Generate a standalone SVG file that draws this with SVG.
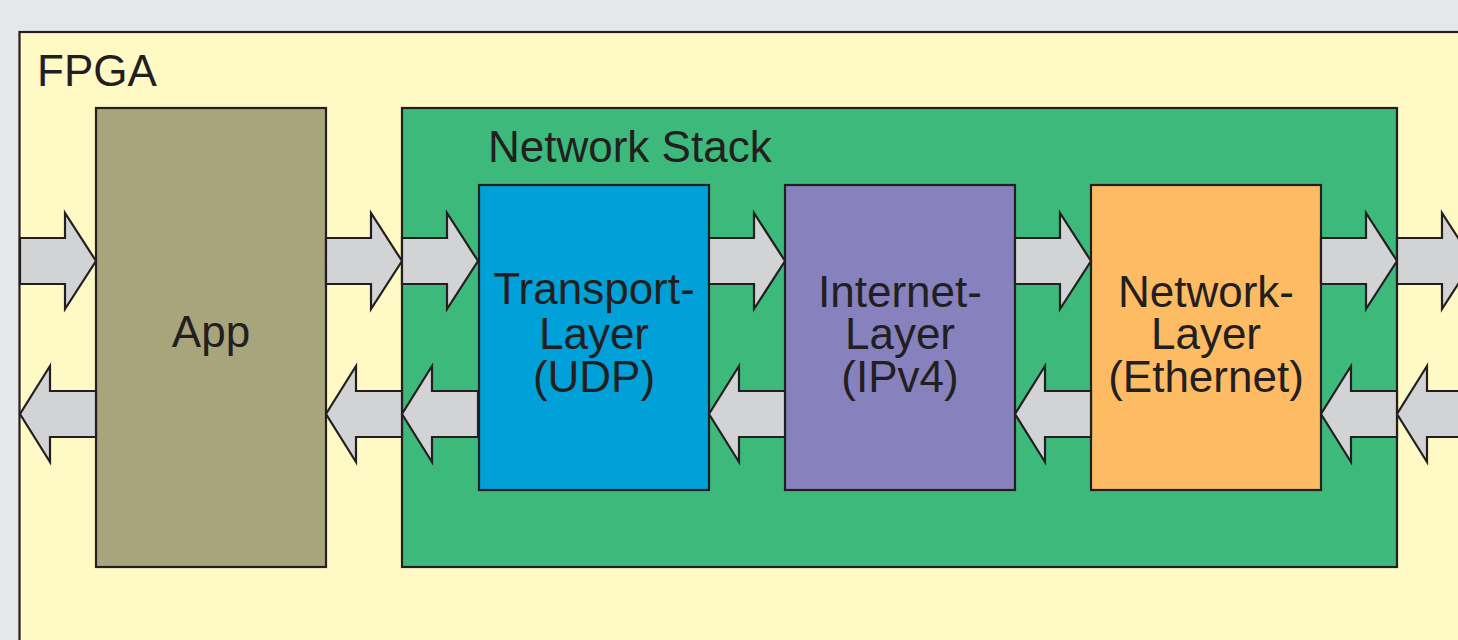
<svg xmlns="http://www.w3.org/2000/svg" width="1458" height="640" viewBox="0 0 1458 640">
<defs>
<style>
.box{stroke:#231f20;stroke-width:2.2}
.t{font-family:"Liberation Sans",Arial,sans-serif;font-size:44px;fill:#231f20}
.c{text-anchor:middle}
.ar{fill:#d1d3d4;stroke:#231f20;stroke-width:2.2;stroke-linejoin:miter}
</style>
<path id="ra" d="M0,-23 H45 V-48 L76,0 L45,48 V23 H0 Z"/>
<path id="la" d="M76,-23 H30 V-48 L0,0 L30,48 V23 H76 Z"/>
</defs>
<rect x="0" y="0" width="1458" height="640" fill="#e6e7e9"/>
<g id="fpga">
<rect class="box" x="19.5" y="32" width="1460" height="640" fill="#fff9c5"/>
<text class="t" x="37" y="86">FPGA</text>
</g>
<g id="app">
<rect class="box" x="96" y="108" width="230" height="459" fill="#a8a47c"/>
<text class="t c" x="211" y="347">App</text>
</g>
<g id="netstack">
<rect class="box" x="402" y="108" width="995" height="459" fill="#3cb97b"/>
<text class="t" x="488" y="162">Network Stack</text>
</g>
<g id="transport">
<rect class="box" x="479" y="185" width="230" height="305" fill="#00a0d8"/>
<text class="t c" x="594" y="304">Transport-</text>
<text class="t c" x="594" y="349">Layer</text>
<text class="t c" x="594" y="392">(UDP)</text>
</g>
<g id="internet">
<rect class="box" x="785" y="185" width="230" height="305" fill="#8781bd"/>
<text class="t c" x="900" y="307">Internet-</text>
<text class="t c" x="900" y="349">Layer</text>
<text class="t c" x="900" y="392">(IPv4)</text>
</g>
<g id="network">
<rect class="box" x="1091" y="185" width="230" height="305" fill="#fdbb63"/>
<text class="t c" x="1206" y="307">Network-</text>
<text class="t c" x="1206" y="349">Layer</text>
<text class="t c" x="1206" y="392">(Ethernet)</text>
</g>
<g id="connectors">
<use href="#ra" class="ar" x="20" y="261"/>
<use href="#ra" class="ar" x="326" y="261"/>
<use href="#ra" class="ar" x="402" y="261"/>
<use href="#ra" class="ar" x="709" y="261"/>
<use href="#ra" class="ar" x="1015" y="261"/>
<use href="#ra" class="ar" x="1321" y="261"/>
<use href="#ra" class="ar" x="1397" y="261"/>
<use href="#la" class="ar" x="20" y="414"/>
<use href="#la" class="ar" x="326" y="414"/>
<use href="#la" class="ar" x="402" y="414"/>
<use href="#la" class="ar" x="709" y="414"/>
<use href="#la" class="ar" x="1015" y="414"/>
<use href="#la" class="ar" x="1321" y="414"/>
<use href="#la" class="ar" x="1397" y="414"/>
</g>
</svg>
